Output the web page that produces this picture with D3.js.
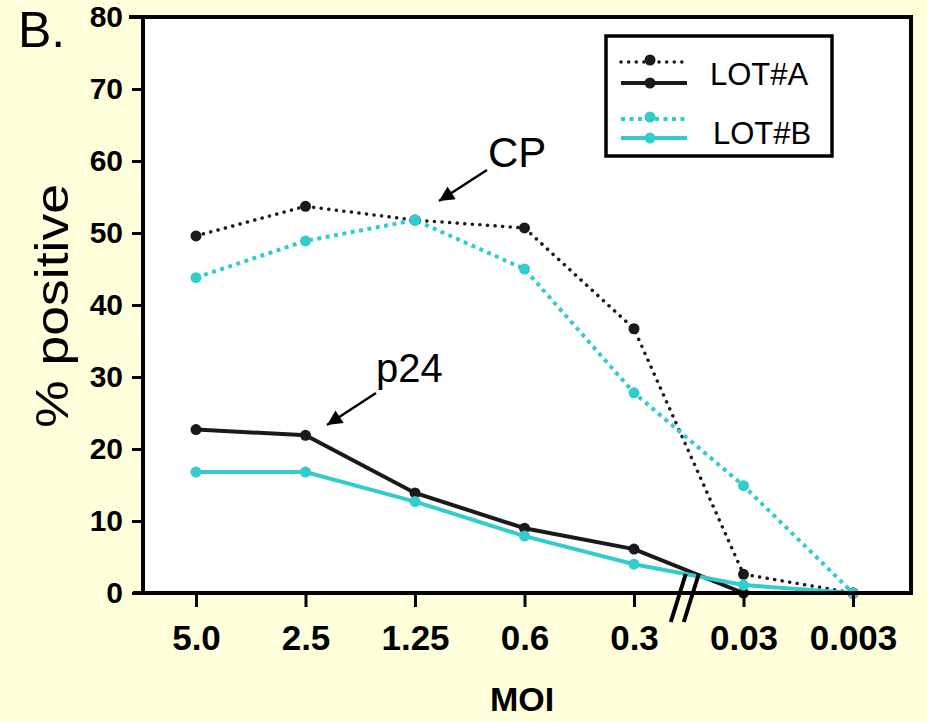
<!DOCTYPE html>
<html>
<head>
<meta charset="utf-8">
<script src="https://cdn.jsdelivr.net/npm/d3@7"></script>
<style>
  html, body { margin: 0; padding: 0; background: #ffffdc; }
  svg { display: block; font-family: "Liberation Sans", Arial, sans-serif; }
</style>
</head>
<body>
<svg id="chart" width="927" height="721"></svg>
<script>
// data
var moi = ["5.0", "2.5", "1.25", "0.6", "0.3", "0.03", "0.003"];
var yTicks = [0, 10, 20, 30, 40, 50, 60, 70, 80];
var cpLotA = [49.6, 53.7, 51.8, 50.7, 36.7, 2.6, 0];
var cpLotB = [43.8, 48.9, 51.8, 45.0, 27.8, 14.9, 0];
var p24LotA = [22.7, 21.9, 13.9, 9.0, 6.1, 0, 0];
var p24LotB = [16.8, 16.8, 12.7, 7.9, 4.0, 1.1, 0];

var black = "#1a1a1a", cyan = "#33cccc";

var svg = d3.select("#chart");
var pLeft = 143, pRight = 911, pTop = 17, pBottom = 593;

var x = d3.scalePoint().domain(moi).range([196, 853]);
var y = d3.scaleLinear().domain([0, 80]).range([pBottom, pTop]);

// plot area
svg.append("rect")
    .attr("x", pLeft).attr("y", pTop)
    .attr("width", pRight - pLeft).attr("height", pBottom - pTop)
    .attr("fill", "#fff");

var series = [
    {vals: cpLotA, color: black, w: 3.5, dash: "0.1 7.5", cap: "round"},
    {vals: cpLotB, color: cyan, w: 4, dash: "4 4.5", cap: "butt"},
    {vals: p24LotA, color: black, w: 4, dash: null, cap: "butt"},
    {vals: p24LotB, color: cyan, w: 4, dash: null, cap: "butt"}
];

var line = d3.line().x((d, i) => x(moi[i])).y(d => y(d));

series.forEach(s => {
    svg.append("path")
        .datum(s.vals)
        .attr("d", line)
        .attr("fill", "none")
        .attr("stroke", s.color)
        .attr("stroke-width", s.w)
        .attr("stroke-linecap", s.cap)
        .attr("stroke-dasharray", s.dash);
});
series.forEach(s => {
    svg.append("g").selectAll("circle")
        .data(s.vals)
        .enter().append("circle")
        .attr("cx", (d, i) => x(moi[i]))
        .attr("cy", d => y(d))
        .attr("r", 5.5)
        .attr("fill", s.color);
});

// frame: top and right
svg.append("path")
    .attr("d", "M" + (pLeft - 14) + "," + pTop + "H" + pRight + "V" + pBottom)
    .attr("fill", "none").attr("stroke", "#000").attr("stroke-width", 4);

// axes
var yAxis = d3.axisLeft(y).tickValues(yTicks).tickSize(11).tickPadding(9);
var gy = svg.append("g").attr("transform", "translate(" + pLeft + ",0)").call(yAxis);
gy.select(".domain").attr("stroke-width", 4).attr("d", "M0," + (pTop - 2) + "V" + (pBottom + 2));
gy.selectAll(".tick line").attr("stroke-width", 3);
gy.selectAll(".tick text")
    .attr("font-size", 30).attr("font-weight", "bold").attr("fill", "#000")
    .attr("font-family", "Liberation Sans, Arial, sans-serif");

var xAxis = d3.axisBottom(x).tickSize(14).tickPadding(18);
var gx = svg.append("g").attr("transform", "translate(0," + pBottom + ")").call(xAxis);
gx.select(".domain").attr("stroke-width", 4).attr("d", "M" + (pLeft - 10) + ",0H" + (pRight + 2));
gx.selectAll(".tick line").attr("stroke-width", 3);
gx.selectAll(".tick text")
    .attr("font-size", 35).attr("font-weight", "bold").attr("fill", "#000")
    .attr("font-family", "Liberation Sans, Arial, sans-serif");

// axis break between 0.3 and 0.03
var bx = (x("0.3") + x("0.03")) / 2 - 11;
[0, 13].forEach(off => {
    svg.append("line")
        .attr("x1", bx + off + 8).attr("y1", pBottom - 19)
        .attr("x2", bx + off - 7).attr("y2", pBottom + 29)
        .attr("stroke", "#000").attr("stroke-width", 4);
});

// axis titles
svg.append("text")
    .attr("transform", "translate(68,306) rotate(-90)")
    .attr("text-anchor", "middle")
    .attr("font-size", 46)
    .attr("textLength", 244).attr("lengthAdjust", "spacingAndGlyphs")
    .text("% positive");

svg.append("text")
    .attr("x", 522).attr("y", 711)
    .attr("text-anchor", "middle")
    .attr("font-size", 34).attr("font-weight", "bold")
    .text("MOI");

svg.append("text")
    .attr("x", 18).attr("y", 47)
    .attr("font-size", 50)
    .text("B.");

// annotations
var defs = svg.append("defs");
defs.append("marker")
    .attr("id", "arrow").attr("viewBox", "0 0 10 10")
    .attr("refX", 10).attr("refY", 5)
    .attr("markerWidth", 7).attr("markerHeight", 6)
    .attr("markerUnits", "strokeWidth")
    .attr("orient", "auto")
    .append("path").attr("d", "M0,0L10,5L0,10Z").attr("fill", "#000");

svg.append("text").attr("x", 488).attr("y", 167).attr("font-size", 42).text("CP");
svg.append("line")
    .attr("x1", 487).attr("y1", 170).attr("x2", 439).attr("y2", 201)
    .attr("stroke", "#000").attr("stroke-width", 2.5)
    .attr("marker-end", "url(#arrow)");

svg.append("text").attr("x", 376).attr("y", 382).attr("font-size", 40).text("p24");
svg.append("line")
    .attr("x1", 376).attr("y1", 393).attr("x2", 327).attr("y2", 425)
    .attr("stroke", "#000").attr("stroke-width", 2.5)
    .attr("marker-end", "url(#arrow)");

// legend
var lg = svg.append("g");
lg.append("rect")
    .attr("x", 606).attr("y", 36).attr("width", 226).attr("height", 120)
    .attr("fill", "#fff").attr("stroke", "#000").attr("stroke-width", 3.5);

var legendRows = [
    {s: series[0], yy: 62}, {s: series[2], yy: 83},
    {s: series[1], yy: 119}, {s: series[3], yy: 138}
];
legendRows.forEach(r => {
    lg.append("line")
        .attr("x1", 621).attr("x2", 687).attr("y1", r.yy).attr("y2", r.yy)
        .attr("stroke", r.s.color).attr("stroke-width", r.s.w)
        .attr("stroke-linecap", r.s.cap)
        .attr("stroke-dasharray", r.s.dash);
    lg.append("circle").attr("cx", 650).attr("cy", r.yy - (r.s.dash ? 2 : 0))
        .attr("r", 5.5).attr("fill", r.s.color);
});
lg.append("text").attr("x", 710).attr("y", 85).attr("font-size", 31).text("LOT#A");
lg.append("text").attr("x", 713).attr("y", 144).attr("font-size", 31).text("LOT#B");
</script>
</body>
</html>
